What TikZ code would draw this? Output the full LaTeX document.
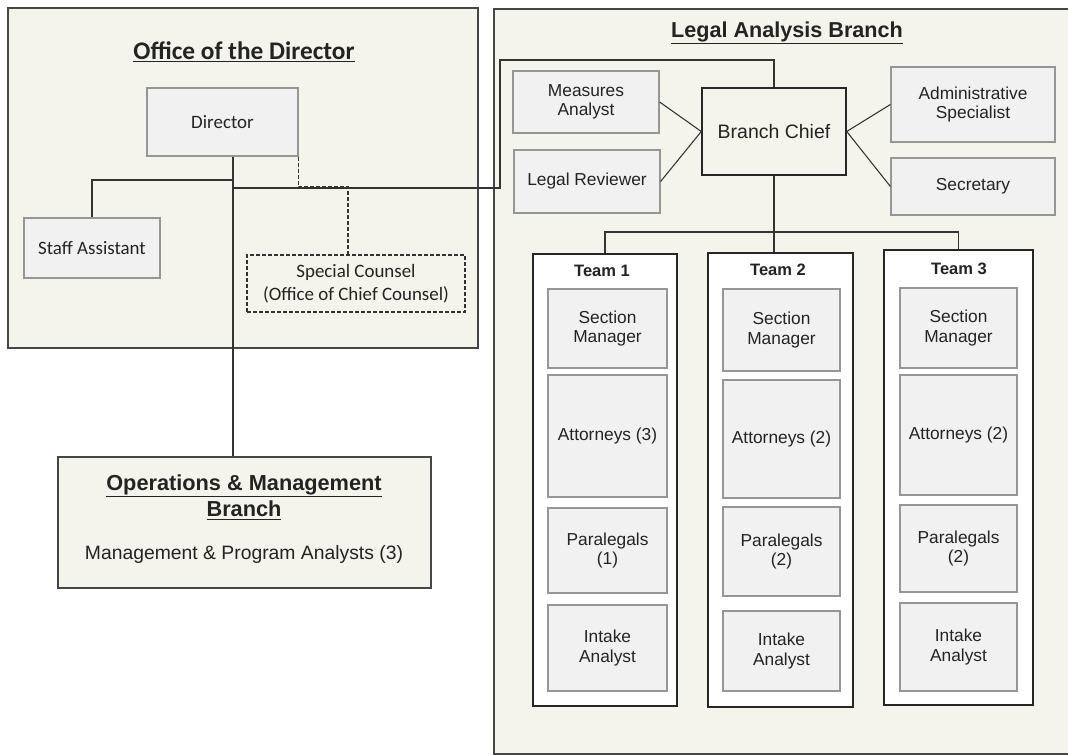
\documentclass[tikz,border=0pt]{standalone}
\usepackage{fontspec}
\setmainfont{Liberation Sans}
\newfontfamily\calibri{Carlito}
\definecolor{PaperBeige}{RGB}{244,244,236}
\definecolor{CardGray}{RGB}{241,241,241}
\definecolor{CardEdge}{RGB}{150,150,150}
\definecolor{FrameGray}{RGB}{70,70,70}
\definecolor{InkGray}{RGB}{35,35,35}

\begin{document}
\begin{tikzpicture}[x=.75pt,y=-.75pt,text=InkGray,
  wh/.style 2 args={minimum width=#1*.75pt,minimum height=#2*.75pt},
  unitframe/.style={draw=FrameGray,line width=1.1pt,fill=PaperBeige,inner sep=0pt},
  card/.style={draw=CardEdge,line width=.9pt,fill=CardGray,inner sep=0pt,align=center,font=\fontsize{13}{14.5}\selectfont},
  teambox/.style={draw=black!85,line width=1.1pt,fill=white,inner sep=0pt},
  teamname/.style={font=\bfseries\fontsize{12.4}{14}\selectfont},
  link/.style={draw=black!80,line width=.8pt}]
\useasboundingbox (0,0) rectangle (1068,755);
% the three branches
\node[unitframe,wh={470}{340}] (office) at (243,178) {};\node[unitframe,wh={586}{745}] (legal) at (787,381.5) {};
\node[unitframe,wh={373}{131}] (ops) at (244.5,522.5) {};
\node[font=\calibri\bfseries\fontsize{19}{21}\selectfont] (officetitle) at (244,52) {\underline{Office of the Director}};
\node[font=\bfseries\fontsize{16.2}{18}\selectfont] (legaltitle) at (787,33) {\underline{Legal Analysis Branch}};
\node[font=\bfseries\fontsize{16.3}{20}\selectfont,align=center] (opstitle) at (244,497) {\underline{Operations \& Management}\\\underline{Branch}};
\node[font=\fontsize{14.5}{16}\selectfont] (opsstaff) at (244,555) {Management \& Program Analysts (3)};
% office of the director
\node[card,wh={151}{68},font=\calibri\fontsize{14.2}{17}\selectfont] (director) at (222.5,122) {Director};
\node[card,wh={136}{60},font=\calibri\fontsize{14.2}{17}\selectfont] (staff) at (92,248) {Staff Assistant};
\node[draw=black!80,dash pattern=on 3pt off 1.5pt,line width=.8pt,inner sep=0pt,align=center,wh={218}{57},font=\calibri\fontsize{14.2}{17.5}\selectfont] (counsel) at (356,283.5) {Special Counsel\\(Office of Chief Counsel)};
% legal analysis branch
\node[card,wh={146}{62}] (measures) at (586,102) {Measures\\Analyst};\node[card,wh={146}{63}] (reviewer) at (587,181.5) {Legal Reviewer};
\node[draw=black!85,line width=1.1pt,fill=PaperBeige,wh={144}{87},font=\fontsize{14.6}{17}\selectfont] (chief) at (774,131.5) {Branch Chief};
\node[card,wh={164}{75}] (admin) at (973,104.5) {Administrative\\Specialist};\node[card,wh={164}{57}] (secretary) at (973,186.5) {Secretary};
% teams
\node[teambox,wh={144}{452}] (team1) at (605,480) {};\node[teambox,wh={145}{454}] (team2) at (780.5,480) {};\node[teambox,wh={149}{455}] (team3) at (958.5,477.5) {};
\node[teamname] (t1name) at (602,271) {Team 1};\node[teamname] (t2name) at (778,270) {Team 2};\node[teamname] (t3name) at (959,269) {Team 3};
\node[card,wh={119}{79}] (sec1) at (607.5,328.5) {Section\\Manager};\node[card,wh={119}{122}] (att1) at (607.5,436) {Attorneys (3)};
\node[card,wh={119}{85}] (par1) at (607.5,550.5) {Paralegals\\(1)};\node[card,wh={119}{86}] (int1) at (607.5,648) {Intake\\Analyst};
\node[card,wh={117}{82}] (sec2) at (781.5,330) {Section\\Manager};\node[card,wh={117}{118}] (att2) at (781.5,439) {Attorneys (2)};
\node[card,wh={117}{89}] (par2) at (781.5,551.5) {Paralegals\\(2)};\node[card,wh={117}{80}] (int2) at (781.5,651) {Intake\\Analyst};
\node[card,wh={117}{80}] (sec3) at (958.5,328) {Section\\Manager};\node[card,wh={117}{120}] (att3) at (958.5,435) {Attorneys (2)};
\node[card,wh={117}{87}] (par3) at (958.5,548.5) {Paralegals\\(2)};\node[card,wh={117}{88}] (int3) at (958.5,647) {Intake\\Analyst};
% reporting lines
\coordinate (trunk) at (233,180);\coordinate (bend) at (500,188);\coordinate (over) at (500,60);
\coordinate (dash) at (348,187);\coordinate (bus) at (774,232);
\draw[link] (trunk |- director.south) -- (trunk |- ops.north);\draw[link] (trunk) -| (staff.north);
\draw[link] (trunk |- bend) -- (bend) -- (over) -| (chief.north);
\draw[link,dash pattern=on 3pt off 1.5pt] (director.south east) |- (dash) -- (dash |- counsel.north);
\draw[link] (measures.east) -- (chief.west) -- (reviewer.east);\draw[link] (admin.west) -- (chief.east) -- (secretary.west);
\draw[link] (chief.south) -- (chief.south |- team2.north);
\draw[link] (team1.north) -- (team1.north |- bus) -- (team3.north |- bus) -- (team3.north);
\end{tikzpicture}
\end{document}
